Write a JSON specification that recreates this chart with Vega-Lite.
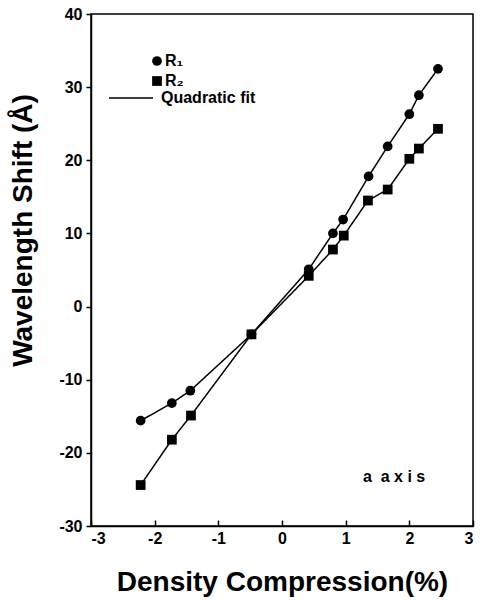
{
  "$schema": "https://vega.github.io/schema/vega-lite/v6.json",
  "width": 382,
  "height": 512,
  "autosize": "none",
  "padding": {"left": 91, "top": 14, "right": 7, "bottom": 79},
  "background": "white",
  "config": {
    "font": "Liberation Sans",
    "view": {"stroke": "black", "strokeWidth": 1.5},
    "axis": {"grid": false, "domainColor": "black", "tickColor": "black", "labelColor": "black", "titleColor": "black", "labelFont": "Liberation Sans", "titleFont": "Liberation Sans", "labelFontWeight": "bold", "titleFontWeight": "bold", "labelFontSize": 16, "titleFontSize": 28, "domainWidth": 1.5, "tickWidth": 1.5},
    "legend": {"labelFontSize": 16, "labelFontWeight": "bold", "labelColor": "black", "labelFont": "Liberation Sans", "rowPadding": 4, "labelOffset": 4, "padding": 0}
  },
  "datasets": {
    "pts": [
      {"x": -2.22, "y": -15.6, "series": "R₁"},
      {"x": -1.73, "y": -13.2, "series": "R₁"},
      {"x": -1.44, "y": -11.5, "series": "R₁"},
      {"x": -0.48, "y": -3.8, "series": "R₁"},
      {"x": 0.42, "y": 5.1, "series": "R₁"},
      {"x": 0.8, "y": 10.0, "series": "R₁"},
      {"x": 0.96, "y": 11.9, "series": "R₁"},
      {"x": 1.36, "y": 17.8, "series": "R₁"},
      {"x": 1.66, "y": 21.9, "series": "R₁"},
      {"x": 2.0, "y": 26.3, "series": "R₁"},
      {"x": 2.15, "y": 28.9, "series": "R₁"},
      {"x": 2.45, "y": 32.5, "series": "R₁"},
      {"x": -2.22, "y": -24.4, "series": "R₂"},
      {"x": -1.73, "y": -18.2, "series": "R₂"},
      {"x": -1.43, "y": -14.9, "series": "R₂"},
      {"x": -0.48, "y": -3.8, "series": "R₂"},
      {"x": 0.42, "y": 4.2, "series": "R₂"},
      {"x": 0.8, "y": 7.8, "series": "R₂"},
      {"x": 0.97, "y": 9.7, "series": "R₂"},
      {"x": 1.35, "y": 14.5, "series": "R₂"},
      {"x": 1.66, "y": 16.0, "series": "R₂"},
      {"x": 2.0, "y": 20.2, "series": "R₂"},
      {"x": 2.15, "y": 21.6, "series": "R₂"},
      {"x": 2.45, "y": 24.3, "series": "R₂"}
    ],
    "notes": [
      {"x": 1.76, "y": -23.3, "label": "a\u00a0\u00a0a x i s"}
    ]
  },
  "layer": [
    {
      "data": {"name": "pts"},
      "mark": {"type": "line", "color": "black", "strokeWidth": 1.5},
      "encoding": {
        "x": {"field": "x", "type": "quantitative", "scale": {"domain": [-3, 3], "nice": false}, "axis": {"values": [-3, -2, -1, 0, 1, 2, 3], "labelExpr": "'' + datum.value", "tickSize": -6, "labelPadding": 10, "title": "Density Compression(%)", "titlePadding": 22}},
        "y": {"field": "y", "type": "quantitative", "scale": {"domain": [-30, 40], "nice": false}, "axis": {"values": [-30, -20, -10, 0, 10, 20, 30, 40], "labelExpr": "'' + datum.value", "tickSize": 5, "labelPadding": 4, "title": "Wavelength Shift (Å)", "titlePadding": 21, "titleY": 216}},
        "detail": {"field": "series"},
        "strokeDash": {"datum": "Quadratic fit", "type": "nominal", "scale": {"range": [[1, 0]]}, "legend": {"title": null, "orient": "none", "legendX": 17, "legendY": 61, "symbolSize": 1936, "symbolStrokeWidth": 1.5, "symbolStrokeColor": "black", "labelOffset": 7}}
      }
    },
    {
      "data": {"name": "pts"},
      "mark": {"type": "point", "filled": true, "color": "black", "opacity": 1, "size": 95},
      "encoding": {
        "x": {"field": "x", "type": "quantitative"},
        "y": {"field": "y", "type": "quantitative"},
        "shape": {"field": "series", "type": "nominal", "scale": {"domain": ["R₁", "R₂"], "range": ["circle", "square"]}, "legend": {"title": null, "orient": "none", "legendX": 58, "legendY": 39, "symbolSize": 95, "symbolFillColor": "black", "labelOffset": 0}}
      }
    },
    {
      "data": {"name": "notes"},
      "mark": {"type": "text", "font": "Liberation Sans", "fontWeight": "bold", "fontSize": 16, "color": "black"},
      "encoding": {
        "x": {"field": "x", "type": "quantitative"},
        "y": {"field": "y", "type": "quantitative"},
        "text": {"field": "label"}
      }
    }
  ]
}
